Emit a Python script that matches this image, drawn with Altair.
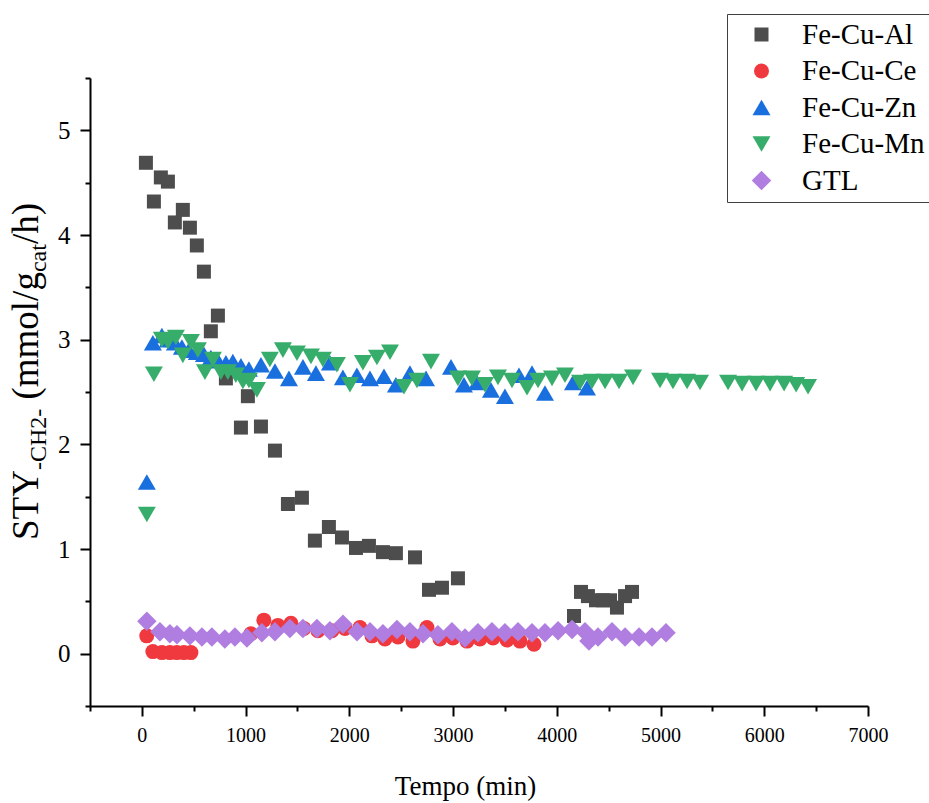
import altair as alt
import pandas as pd

# Series definitions
series_names = ["Fe-Cu-Al", "Fe-Cu-Ce", "Fe-Cu-Zn", "Fe-Cu-Mn", "GTL"]
series_colors = ["#4d4d4d", "#f0393e", "#1a6fdf", "#37ad6b", "#b07ee0"]
series_shapes = ["square", "circle", "triangle-up", "triangle-down", "diamond"]
series_sizes = [196, 225, 324, 324, 380]

# Time on stream (min) and STY values for each catalyst
al_t = [39, 116, 183, 251, 318, 395, 463, 530, 598, 665, 733, 810, 955, 1022, 1148, 1283, 1408, 1543, 1668, 1803,
        1929, 2064, 2189, 2324, 2449, 2633, 2768, 2893, 3047, 4166, 4233, 4300, 4378, 4446, 4513, 4580, 4658, 4725]
al_v = [4.69, 4.32, 4.55, 4.51, 4.12, 4.24, 4.07, 3.90, 3.65, 3.08, 3.23, 2.63, 2.16, 2.46, 2.17, 1.94, 1.43, 1.49, 1.08, 1.21,
        1.11, 1.01, 1.03, 0.97, 0.96, 0.92, 0.61, 0.63, 0.72, 0.36, 0.59, 0.55, 0.51, 0.51, 0.51, 0.44, 0.55, 0.59]

ce_t = [47, 106, 193, 270, 337, 405, 473, 1051, 1176, 1311, 1437, 1562, 1697, 1832, 1958, 2102, 2218,
        2343, 2469, 2613, 2748, 2874, 2999, 3134, 3259, 3385, 3520, 3645, 3780]
ce_v = [0.17, 0.02, 0.01, 0.01, 0.01, 0.01, 0.01, 0.19, 0.32, 0.27, 0.29, 0.24, 0.22, 0.22, 0.24, 0.25, 0.17,
        0.14, 0.16, 0.12, 0.25, 0.14, 0.15, 0.12, 0.14, 0.15, 0.13, 0.12, 0.09]

zn_t = [48, 106, 193, 250, 318, 386, 453, 530, 598, 665, 733, 810, 877, 955, 1032, 1148, 1283, 1418, 1553, 1678,
        1813, 1938, 2073, 2199, 2334, 2449, 2584, 2739, 2980, 3105, 3230, 3365, 3500, 3635, 3761, 3886, 4156, 4291]
zn_v = [1.64, 2.97, 3.04, 3.00, 2.97, 2.93, 2.90, 2.88, 2.86, 2.83, 2.80, 2.78, 2.79, 2.75, 2.72, 2.76, 2.70, 2.63, 2.74, 2.68,
        2.78, 2.64, 2.66, 2.63, 2.65, 2.57, 2.68, 2.63, 2.74, 2.57, 2.59, 2.52, 2.46, 2.66, 2.68, 2.49, 2.59, 2.54]

mn_t = [48, 116, 193, 251, 328, 395, 473, 540, 608, 685, 762, 829, 906, 974, 1032, 1109, 1234, 1360,
        1495, 1630, 1745, 1880, 2006, 2131, 2266, 2392, 2527, 2652, 2787,
        3047, 3182, 3308, 3433, 3568, 3713, 3819, 3954, 4079, 4224, 4339, 4465, 4600, 4735,
        4995, 5120, 5256, 5381, 5651, 5786, 5921, 6056, 6191, 6307, 6422]
mn_v = [1.33, 2.67, 3.00, 2.98, 3.02, 2.85, 2.98, 2.90, 2.69, 2.81, 2.69, 2.69, 2.66, 2.60, 2.61, 2.52, 2.81, 2.90,
        2.87, 2.84, 2.81, 2.76, 2.57, 2.78, 2.83, 2.88, 2.55, 2.61, 2.79,
        2.63, 2.63, 2.57, 2.64, 2.61, 2.54, 2.61, 2.63, 2.66, 2.59, 2.60, 2.60, 2.60, 2.64,
        2.61, 2.60, 2.60, 2.59, 2.59, 2.58, 2.58, 2.58, 2.58, 2.57, 2.55]

gtl_t = [48, 174, 270, 338, 463, 579, 675, 800, 897, 1013, 1157, 1283, 1427, 1553, 1688, 1813, 1939, 2074, 2199, 2324,
         2459, 2584, 2710, 2854, 2989, 3115, 3240, 3375, 3500, 3626, 3761, 3886, 4012, 4147, 4272, 4310, 4397, 4532,
         4658, 4793, 4918, 5053]
gtl_v = [0.31, 0.21, 0.19, 0.18, 0.17, 0.16, 0.16, 0.14, 0.16, 0.15, 0.20, 0.21, 0.24, 0.24, 0.24, 0.22, 0.28, 0.21,
         0.21, 0.19, 0.23, 0.21, 0.19, 0.18, 0.21, 0.15, 0.20, 0.21, 0.20, 0.21, 0.20, 0.20, 0.22, 0.23, 0.21, 0.12,
         0.16, 0.21, 0.16, 0.16, 0.16, 0.20]

rows = []
for name, ts, vs in zip(series_names, [al_t, ce_t, zn_t, mn_t, gtl_t], [al_v, ce_v, zn_v, mn_v, gtl_v]):
    for t, v in zip(ts, vs):
        rows.append({"serie": name, "tempo": t, "sty": v})
df = pd.DataFrame(rows)

FONT = "Liberation Serif"
W, H = 778, 628
PAD = {"left": 90, "top": 78, "right": 61, "bottom": 97}

x_ticks = list(range(-500, 7001, 500))
y_ticks = [i / 2 for i in range(-1, 12)]

axis_style = dict(
    grid=False, labelFlush=False, labelOverlap=False,
    labelFont=FONT, labelColor="black",
    titleFont=FONT, titleColor="black", titleFontWeight="normal",
    tickColor="black", tickWidth=2, domainColor="black", domainWidth=2,
)

x_axis = alt.Axis(
    values=x_ticks, title="Tempo (min)",
    labelExpr="datum.value % 1000 === 0 ? format(datum.value, 'd') : ''",
    tickSize={"condition": {"test": "datum.value % 1000 === 0", "value": 10}, "value": 5},
    labelPadding=9, labelFontSize=20,
    titleX=375, titleY=80, titleBaseline="middle", titleAnchor="start", titleAlign="center",
    titleFontSize=27, **axis_style,
)
y_axis = alt.Axis(
    values=y_ticks, title=None,
    labelExpr="datum.value % 1 === 0 ? format(datum.value, 'd') : ''",
    tickSize={"condition": {"test": "datum.value % 1 === 0", "value": 10}, "value": 5},
    labelPadding=10, labelFontSize=25, **axis_style,
)

legend = alt.Legend(
    title=None, orient="none", legendX=637, legendY=-64,
    strokeColor="#404040", fillColor="white", padding=6,
    labelFont=FONT, labelFontSize=29, labelColor="black", labelOffset=26,
    rowPadding=6.5, symbolStrokeWidth=0, symbolOffset=14, symbolOpacity=1,
)

points = alt.Chart(df).mark_point(filled=True, opacity=1, strokeWidth=0).encode(
    x=alt.X("tempo:Q", scale=alt.Scale(domain=[-500, 7000], nice=False, zero=False), axis=x_axis),
    y=alt.Y("sty:Q", scale=alt.Scale(domain=[-0.5, 5.5], nice=False, zero=False), axis=y_axis),
    color=alt.Color("serie:N", scale=alt.Scale(domain=series_names, range=series_colors), legend=legend),
    shape=alt.Shape("serie:N", scale=alt.Scale(domain=series_names, range=series_shapes), legend=legend),
    size=alt.Size("serie:N", scale=alt.Scale(type="ordinal", domain=series_names, range=series_sizes),
                  legend=legend),
    order=alt.Order("idx:Q"),
).transform_window(idx="row_number()")

# Y-axis title with subscripts, built from rotated text pieces
EM = {"S": .556, "T": .611, "Y": .722, "-": .333, "C": .667, "H": .722, "2": .5, " ": .25, "(": .333,
      "m": .778, "o": .5, "l": .278, "/": .278, "g": .5, "c": .444, "a": .444, "t": .278, "h": .5, ")": .333}
MAIN, SUB = 37, 24
title_parts = [("STY", False, 0.0), ("-CH2-", True, 0.0), ("(mmol/g", False, 0.25), ("cat", True, 0.0),
               ("/h)", False, 0.0)]
y_pos = 462
base_x = -52
layers = [points]
for text, is_sub, gap in title_parts:
    size = SUB if is_sub else MAIN
    y_pos -= gap * size
    layers.append(
        alt.Chart(pd.DataFrame({"label": [text]})).mark_text(
            font=FONT, fontSize=size, angle=270, align="left", baseline="alphabetic", color="black"
        ).encode(
            text="label:N",
            x=alt.value(base_x + (8 if is_sub else 0)),
            y=alt.value(y_pos),
        )
    )
    y_pos -= sum(EM.get(ch, .5) for ch in text) * size

chart = alt.layer(*layers).properties(
    width=W, height=H,
    autosize=alt.AutoSizeParams(type="none"),
    padding=PAD,
    background="white",
).configure_view(stroke=None)

chart.save("out.html", embed_options={"renderer": "svg", "actions": False})
